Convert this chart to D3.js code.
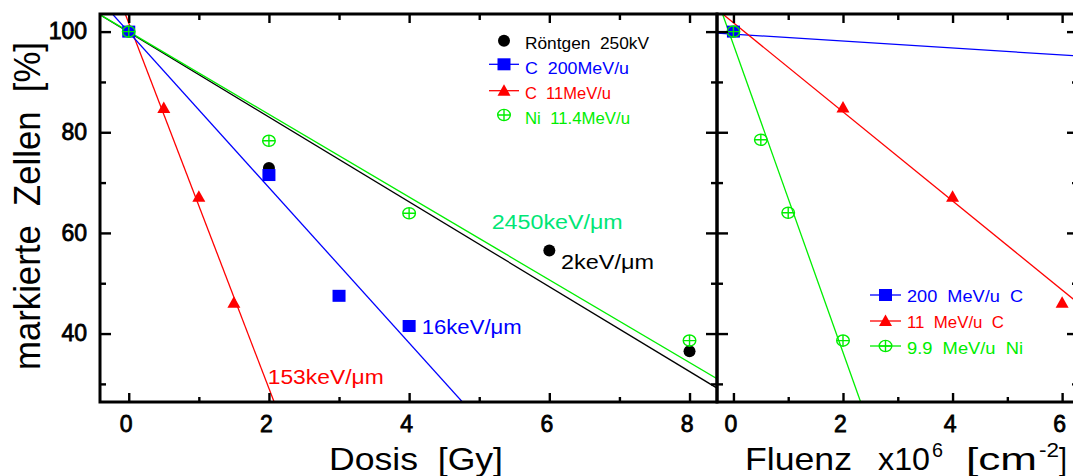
<!DOCTYPE html>
<html>
<head>
<meta charset="utf-8">
<script src="https://cdn.jsdelivr.net/npm/d3@7"></script>
<style>
  html, body { margin: 0; padding: 0; background: #fff; }
  svg { display: block; }
  text { font-family: "Liberation Sans", "DejaVu Sans", sans-serif; }
</style>
</head>
<body>
<svg id="chart" width="1073" height="476"></svg>
<script>
// ---- Dose panel (Dosis [Gy]) ----
const roentgenDose = [0, 2, 6, 8];
const roentgenVal  = [100, 72.9, 56.5, 36.5];
const cHighDose    = [0, 2, 3, 4];
const cHighVal     = [100, 71.5, 47.5, 41.5];
const cLowDose     = [0.5, 1, 1.5];
const cLowVal      = [84.8, 67.2, 46.1];
const niDose       = [0, 2, 4, 8];
const niVal        = [100, 78.3, 63.9, 38.6];
// linear fits: [intercept, slope per Gy]
const roentgenFit  = [99.9, -8.43];
const cHighFit     = [99.9, -15.44];
const cLowFit      = [101.7, -36.3];
const niFit        = [100.0, -8.22];

// ---- Fluence panel (Fluenz x10^6 [cm^-2]) ----
const flCHighX = [0];
const flCHighY = [100];
const flCLowX  = [2, 4, 6];
const flCLowY  = [84.9, 67.2, 46.1];
const flNiX    = [0, 0.5, 1, 2];
const flNiY    = [100, 78.5, 64.0, 38.6];
// linear fits: [intercept, slope per 10^6 cm^-2]
const flCHighFit = [99.5, -0.69];
const flCLowFit  = [101.76, -8.85];
const flNiFit    = [97.4, -30.57];

// ---- tick values ----
const yMajor = [40, 60, 80, 100];
const yMinor = [30, 50, 70, 90];
const doseMajor = [0, 2, 4, 6, 8];
const doseMinor = [1, 3, 5, 7];
const flMajor = [0, 2, 4, 6];
const flMinor = [1, 3, 5];

// ---- labels ----
const legendDose = ["Röntgen  250kV", "C  200MeV/u", "C  11MeV/u", "Ni  11.4MeV/u"];
const legendFl   = ["200  MeV/u  C", "11  MeV/u  C", "9.9  MeV/u  Ni"];
const letLabels  = ["2keV/μm", "16keV/μm", "153keV/μm", "2450keV/μm"];

const BLACK = "#000", BLUE = "#0000ff", RED = "#ff0000", GREEN = "#00ee00", TEAL = "#00e676";

const svg = d3.select("#chart");
const yTop = 14, yBottom = 402, xL0 = 100, xMid = 717, xR1 = 1078;

const y  = d3.scaleLinear().domain([26.4, 103.5]).range([yBottom, yTop]);
const xD = d3.scaleLinear().domain([-0.41, 8.392]).range([xL0, xMid]);
const xF = d3.scaleLinear().domain([-0.30, 6.29]).range([xMid, xR1]);

const defs = svg.append("defs");
defs.append("clipPath").attr("id", "clipD").append("rect")
  .attr("x", xL0).attr("y", yTop).attr("width", xMid - xL0).attr("height", yBottom - yTop);
defs.append("clipPath").attr("id", "clipF").append("rect")
  .attr("x", xMid).attr("y", yTop).attr("width", xR1 - xMid).attr("height", yBottom - yTop);

// ---- markers ----
function drawMarker(g, kind, cx, cy) {
  if (kind === "circle") {
    g.append("circle").attr("cx", cx).attr("cy", cy).attr("r", 6).attr("fill", BLACK);
  } else if (kind === "square") {
    g.append("rect").attr("x", cx - 6.5).attr("y", cy - 6).attr("width", 13).attr("height", 12).attr("fill", BLUE);
  } else if (kind === "triangle") {
    g.append("path").attr("d", `M${cx},${cy - 6.5}L${cx + 6.5},${cy + 5}L${cx - 6.5},${cy + 5}Z`).attr("fill", RED);
  } else if (kind === "cplus") {
    g.append("ellipse").attr("cx", cx).attr("cy", cy).attr("rx", 6.3).attr("ry", 5.6)
      .attr("fill", "none").attr("stroke", GREEN).attr("stroke-width", 1.4);
    g.append("path").attr("d", `M${cx - 6.3},${cy}H${cx + 6.3}M${cx},${cy - 5.6}V${cy + 5.6}`)
      .attr("stroke", GREEN).attr("stroke-width", 1.4);
  }
}

function fitLine(g, x, fit, color) {
  const [x0, x1] = x.domain();
  g.append("line")
    .attr("x1", x(x0)).attr("y1", y(fit[0] + fit[1] * x0))
    .attr("x2", x(x1)).attr("y2", y(fit[0] + fit[1] * x1))
    .attr("stroke", color).attr("stroke-width", 1.3);
}

function series(g, x, xs, ys, kind) {
  xs.forEach((v, i) => drawMarker(g, kind, x(v), y(ys[i])));
}

// ---- dose panel ----
const gD = svg.append("g").attr("clip-path", "url(#clipD)");
fitLine(gD, xD, cLowFit, RED);
fitLine(gD, xD, cHighFit, BLUE);
fitLine(gD, xD, roentgenFit, BLACK);
fitLine(gD, xD, niFit, GREEN);
series(gD, xD, roentgenDose, roentgenVal, "circle");
series(gD, xD, cHighDose, cHighVal, "square");
series(gD, xD, cLowDose, cLowVal, "triangle");
series(gD, xD, niDose, niVal, "cplus");

// ---- fluence panel ----
const gF = svg.append("g").attr("clip-path", "url(#clipF)");
fitLine(gF, xF, flCHighFit, BLUE);
fitLine(gF, xF, flCLowFit, RED);
fitLine(gF, xF, flNiFit, GREEN);
series(gF, xF, flCHighX, flCHighY, "square");
series(gF, xF, flCLowX, flCLowY, "triangle");
series(gF, xF, flNiX, flNiY, "cplus");

// ---- axes (inward ticks) ----
function axisG(axis, tx, ty) {
  const g = svg.append("g").attr("transform", `translate(${tx},${ty})`).call(axis);
  g.select(".domain").remove();
  g.selectAll(".tick line").attr("stroke", "#000").attr("stroke-width", 2.4);
  return g;
}
const tickFont = g => g.selectAll("text")
  .attr("font-family", "'Liberation Sans', sans-serif")
  .attr("font-size", 23).attr("font-weight", "normal").attr("fill", "#000")
  .attr("stroke", "#000").attr("stroke-width", 0.8);

// y axis, left of dose panel
tickFont(axisG(d3.axisLeft(y).tickValues(yMajor).tickSize(-11).tickPadding(13).tickFormat(d3.format("d")), xL0, 0));
axisG(d3.axisLeft(y).tickValues(yMinor).tickSize(-6).tickFormat(""), xL0, 0);
// y ticks on the shared border
axisG(d3.axisRight(y).tickValues(yMajor).tickSize(-11).tickFormat(""), xMid, 0);
axisG(d3.axisRight(y).tickValues(yMinor).tickSize(-6).tickFormat(""), xMid, 0);
axisG(d3.axisLeft(y).tickValues(yMajor).tickSize(-11).tickFormat(""), xMid, 0);
axisG(d3.axisLeft(y).tickValues(yMinor).tickSize(-6).tickFormat(""), xMid, 0);
// y ticks on the far right
axisG(d3.axisRight(y).tickValues(yMajor).tickSize(-11).tickFormat(""), xR1, 0);
axisG(d3.axisRight(y).tickValues(yMinor).tickSize(-6).tickFormat(""), xR1, 0);

// dose x axes
const dB = axisG(d3.axisBottom(xD).tickValues(doseMajor).tickSize(-9).tickPadding(14).tickFormat(d3.format("d")), 0, yBottom);
tickFont(dB); dB.selectAll("text").attr("dx", -3);
axisG(d3.axisBottom(xD).tickValues(doseMinor).tickSize(-5).tickFormat(""), 0, yBottom);
axisG(d3.axisTop(xD).tickValues(doseMajor).tickSize(-9).tickFormat(""), 0, yTop);
axisG(d3.axisTop(xD).tickValues(doseMinor).tickSize(-6).tickFormat(""), 0, yTop);

// fluence x axes
const fB = axisG(d3.axisBottom(xF).tickValues(flMajor).tickSize(-9).tickPadding(14).tickFormat(d3.format("d")), 0, yBottom);
tickFont(fB); fB.selectAll("text").attr("dx", -3);
axisG(d3.axisBottom(xF).tickValues(flMinor).tickSize(-5).tickFormat(""), 0, yBottom);
axisG(d3.axisTop(xF).tickValues(flMajor).tickSize(-9).tickFormat(""), 0, yTop);
axisG(d3.axisTop(xF).tickValues(flMinor).tickSize(-6).tickFormat(""), 0, yTop);

// ---- frames ----
svg.append("rect").attr("x", xL0).attr("y", yTop).attr("width", xMid - xL0).attr("height", yBottom - yTop)
  .attr("fill", "none").attr("stroke", "#000").attr("stroke-width", 3);
svg.append("rect").attr("x", xMid).attr("y", yTop).attr("width", xR1 - xMid).attr("height", yBottom - yTop)
  .attr("fill", "none").attr("stroke", "#000").attr("stroke-width", 3);

// ---- legend, dose panel ----
const legD = svg.append("g");
const legDColors = [BLACK, BLUE, RED, GREEN];
const legDKinds = ["circle", "square", "triangle", "cplus"];
const legDMarkY = [40.7, 64.3, 90.7, 115];
const legDTextY = [49, 73.5, 99, 124];
const legDLen = [124, 104, 86, 105];
const legDLine = [false, true, true, false];
legendDose.forEach((t, i) => {
  if (legDLine[i]) {
    legD.append("line").attr("x1", 489).attr("x2", 519).attr("y1", legDMarkY[i]).attr("y2", legDMarkY[i])
      .attr("stroke", legDColors[i]).attr("stroke-width", 1.3);
  }
  drawMarker(legD, legDKinds[i], 504, legDMarkY[i]);
  legD.append("text").attr("x", 525).attr("y", legDTextY[i]).text(t)
    .attr("font-size", 16).attr("fill", legDColors[i]).style("white-space", "pre")
    .attr("textLength", legDLen[i]).attr("lengthAdjust", "spacingAndGlyphs");
});

// ---- legend, fluence panel ----
const legF = svg.append("g");
const legFColors = [BLUE, RED, GREEN];
const legFKinds = ["square", "triangle", "cplus"];
const legFMarkY = [295, 321, 346];
const legFTextY = [302, 328, 354];
const legFLen = [116, 97, 116];
legendFl.forEach((t, i) => {
  legF.append("line").attr("x1", 870).attr("x2", 901).attr("y1", legFMarkY[i]).attr("y2", legFMarkY[i])
    .attr("stroke", legFColors[i]).attr("stroke-width", 1.3);
  drawMarker(legF, legFKinds[i], 885.5, legFMarkY[i]);
  legF.append("text").attr("x", 907).attr("y", legFTextY[i]).text(t)
    .attr("font-size", 16).attr("fill", legFColors[i]).style("white-space", "pre")
    .attr("textLength", legFLen[i]).attr("lengthAdjust", "spacingAndGlyphs");
});

// ---- LET annotations ----
const letX = [561, 421.7, 267.7, 491.7];
const letY = [269, 334, 384, 229];
const letColors = [BLACK, BLUE, RED, TEAL];
const letLen = [93, 100, 116, 131];
letLabels.forEach((t, i) => {
  svg.append("text").attr("x", letX[i]).attr("y", letY[i]).text(t)
    .attr("font-size", 20).attr("fill", letColors[i])
    .attr("textLength", letLen[i]).attr("lengthAdjust", "spacingAndGlyphs");
});

// ---- axis titles ----
svg.append("text")
  .attr("transform", "translate(40,206) rotate(-90)")
  .attr("text-anchor", "middle")
  .attr("font-size", 37).attr("fill", "#000")
  .attr("textLength", 328).attr("lengthAdjust", "spacingAndGlyphs")
  .style("white-space", "pre")
  .text("markierte  Zellen  [%]");

svg.append("text")
  .attr("x", 329).attr("y", 470)
  .attr("font-size", 32).attr("fill", "#000")
  .attr("textLength", 174).attr("lengthAdjust", "spacingAndGlyphs")
  .style("white-space", "pre")
  .text("Dosis  [Gy]");

// Fluence title, set piece by piece so the superscripts sit right
const flParts = [
  { t: "Fluenz", x: 745, len: 107, size: 32, base: 470 },
  { t: "x10",    x: 878, len: 52,  size: 32, base: 470 },
  { t: "6",      x: 932, len: 11,  size: 21, base: 457 },
  { t: "[cm",    x: 966, len: 71,  size: 32, base: 470 },
  { t: "-2",     x: 1039, len: 20, size: 21, base: 457 },
  { t: "]",      x: 1059, len: 8,  size: 32, base: 470 }
];
flParts.forEach(p => {
  svg.append("text").attr("x", p.x).attr("y", p.base).text(p.t)
    .attr("font-size", p.size).attr("fill", "#000")
    .attr("textLength", p.len).attr("lengthAdjust", "spacingAndGlyphs");
});
</script>
</body>
</html>
